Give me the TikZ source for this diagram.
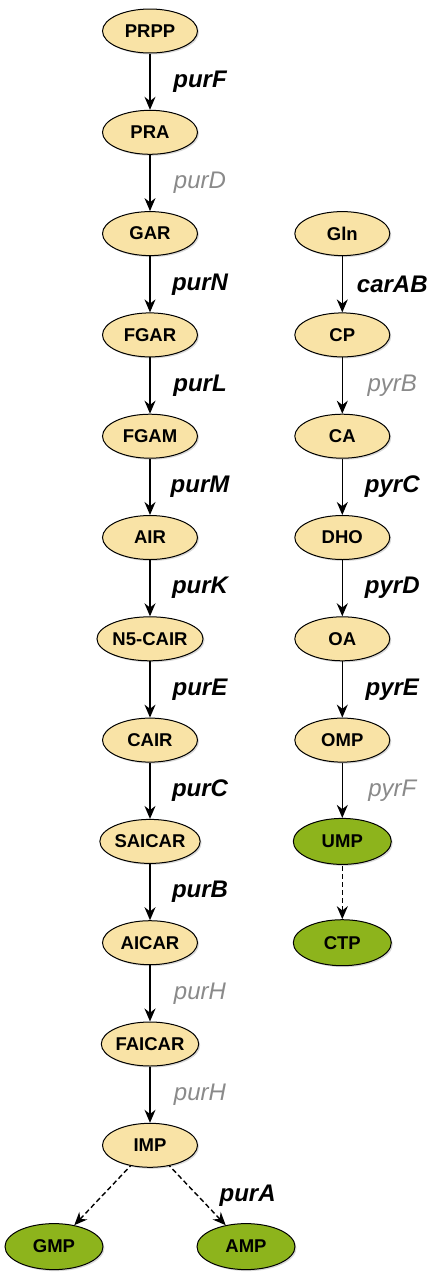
\documentclass[tikz,border=0pt]{standalone}
\usepackage{fontspec}
\setmainfont{Liberation Sans}
\usepackage{xcolor}
\definecolor{metYellow}{HTML}{F9E3A6}
\definecolor{metGreen}{HTML}{8DB41C}
\definecolor{enzGray}{HTML}{8A8A8A}
\usepackage{tikz}
\usetikzlibrary{shapes.geometric,arrows.meta,shadows}
\tikzset{metabolite/.style={ellipse, draw=black, line width=1pt, fill=metYellow, minimum width=95pt, minimum height=44pt, inner sep=0pt, font=\fontsize{18.5}{20}\selectfont\bfseries, drop shadow={shadow xshift=1.5pt, shadow yshift=-1.5pt, opacity=0.3}}}
\tikzset{product/.style={metabolite, fill=metGreen, minimum width=98pt, minimum height=46pt}}
\tikzset{reaction/.style={{Stealth[length=13pt,width=11pt]}-, line width=1.4pt}}
\tikzset{indirect/.style={reaction, dash pattern=on 5pt off 3pt}}
\tikzset{gene/.style={xshift=50pt, inner sep=0pt, font=\fontsize{24}{26}\selectfont\bfseries\itshape}}
\tikzset{weak gene/.style={gene, text=enzGray, font=\fontsize{24}{26}\selectfont\itshape}}

\begin{document}
\begin{tikzpicture}[x=1pt, y=-1pt, node distance=101.3pt]
\useasboundingbox (0,0) rectangle (430,1280);
%--------------------
% purine branch
%--------------------
\node[metabolite](prpp) at (150,31){PRPP};
\node[metabolite](pra)[below of=prpp]{PRA} edge[reaction] node[gene]{purF}(prpp);
\node[metabolite](gar)[below of=pra]{GAR} edge[reaction] node[weak gene]{purD}(pra);
\node[metabolite](fgar)[below of=gar]{FGAR} edge[reaction] node[gene]{purN}(gar);
\node[metabolite](fgam)[below of=fgar]{FGAM} edge[reaction] node[gene]{purL}(fgar);
\node[metabolite](air)[below of=fgam]{AIR} edge[reaction] node[gene]{purM}(fgam);
\node[metabolite](ncair)[below of=air]{N5-CAIR} edge[reaction] node[gene]{purK}(air);
\node[metabolite](cair)[below of=ncair]{CAIR} edge[reaction] node[gene]{purE}(ncair);
\node[metabolite](saicar)[below of=cair]{SAICAR} edge[reaction] node[gene]{purC}(cair);
\node[metabolite](aicar)[below of=saicar]{AICAR} edge[reaction] node[gene]{purB}(saicar);
\node[metabolite](faicar)[below of=aicar]{FAICAR} edge[reaction] node[weak gene]{purH}(aicar);
\node[metabolite](imp)[below of=faicar]{IMP} edge[reaction] node[weak gene]{purH}(faicar);
\node[product](gmp)[below of=imp, xshift=-96pt]{GMP} edge[indirect](imp);
\node[product](amp)[below of=imp, xshift=96pt]{AMP} edge[indirect] node[gene]{purA}(imp);

%--------------------
% pyrimidine branch
%--------------------
\node[metabolite](gln)[right of=gar, xshift=91pt]{Gln};
\node[metabolite](cp)[below of=gln]{CP} edge[reaction] node[gene]{carAB}(gln);
\node[metabolite](ca)[below of=cp]{CA} edge[reaction] node[weak gene]{pyrB}(cp);
\node[metabolite](dho)[below of=ca]{DHO} edge[reaction] node[gene]{pyrC}(ca);
\node[metabolite](oa)[below of=dho]{OA} edge[reaction] node[gene]{pyrD}(dho);
\node[metabolite](omp)[below of=oa]{OMP} edge[reaction] node[gene]{pyrE}(oa);
\node[product](ump)[below of=omp]{UMP} edge[reaction] node[weak gene]{pyrF}(omp);
\node[product](ctp)[below of=ump]{CTP} edge[indirect](ump);
\end{tikzpicture}
\end{document}
